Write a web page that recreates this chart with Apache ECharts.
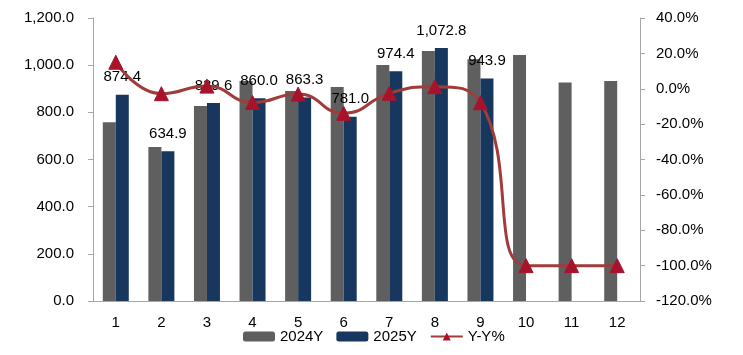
<!DOCTYPE html>
<html>
<head>
<meta charset="utf-8">
<script src="https://cdn.jsdelivr.net/npm/echarts@6/dist/echarts.min.js"></script>
<style>html,body{margin:0;padding:0;background:#fff}#c{width:743px;height:355px}</style>
</head>
<body>
<div id="c"></div>
<script>
var categories = ['1','2','3','4','5','6','7','8','9','10','11','12'];
var y2024 = [758, 653, 827, 933, 890, 907, 1001, 1060, 1025, 1043, 926, 933];
var y2025 = [874.4, 634.9, 839.6, 860.0, 863.3, 781.0, 974.4, 1072.8, 943.9];
var yoy = [15.0, -2.8, 1.5, -7.8, -3.0, -13.9, -2.6, 1.2, -7.9, -100, -100, -100];
var leftTicks = {min: 0, max: 1200, interval: 200};
var rightTicks = {min: -120, max: 40, interval: 20};

function fmt(v){ return Number(v).toLocaleString('en-US',{minimumFractionDigits:1,maximumFractionDigits:1}); }
var FONT = 'Liberation Sans';
var chart = echarts.init(document.getElementById('c'));
chart.setOption({
  animation: false,
  textStyle: {fontFamily: FONT},
  grid: {left: 93, right: 103, top: 18, bottom: 54, containLabel: false},
  legend: {
    bottom: 6, left: 238, itemWidth: 32, itemHeight: 10, itemGap: 13,
    textStyle: {fontFamily: FONT, fontSize: 15, color: '#000'},
    data: ['2024Y', '2025Y', 'Y-Y%']
  },
  xAxis: {
    type: 'category', data: categories,
    axisLine: {lineStyle: {color: '#A6A6A6', width: 1}},
    axisTick: {show: false},
    axisLabel: {margin: 14, fontSize: 15, color: '#000', fontFamily: FONT}
  },
  yAxis: [{
    type: 'value', min: leftTicks.min, max: leftTicks.max, interval: leftTicks.interval,
    axisLine: {show: true, lineStyle: {color: '#A6A6A6'}},
    axisTick: {show: true, length: 5, lineStyle: {color: '#A6A6A6'}},
    splitLine: {show: false},
    axisLabel: {margin: 19, fontSize: 15, color: '#000', fontFamily: FONT, formatter: fmt}
  }, {
    type: 'value', min: rightTicks.min, max: rightTicks.max, interval: rightTicks.interval,
    position: 'right',
    axisLine: {show: true, lineStyle: {color: '#A6A6A6'}},
    axisTick: {show: true, length: 5, lineStyle: {color: '#A6A6A6'}},
    splitLine: {show: false},
    axisLabel: {margin: 16, fontSize: 15, color: '#000', fontFamily: FONT, formatter: function(v){ return v.toFixed(1) + '%'; }}
  }],
  series: [{
    name: '2024Y', type: 'bar', data: y2024, barWidth: 13, barGap: '0%',
    itemStyle: {color: '#5F5F5F'}
  }, {
    name: '2025Y', type: 'bar', data: y2025, barWidth: 13,
    itemStyle: {color: '#17375E'},
    label: {show: true, position: 'top', distance: 10, fontSize: 15, color: '#000', fontFamily: FONT,
      formatter: function(p){ return fmt(p.value); }}
  }, {
    name: 'Y-Y%', type: 'line', yAxisIndex: 1, data: yoy, smooth: 0.5,
    symbol: 'triangle', symbolSize: 14,
    lineStyle: {color: '#A03C3A', width: 3},
    itemStyle: {color: '#A8132B', borderColor: '#A8132B'},
    z: 5
  }]
});
</script>
</body>
</html>
